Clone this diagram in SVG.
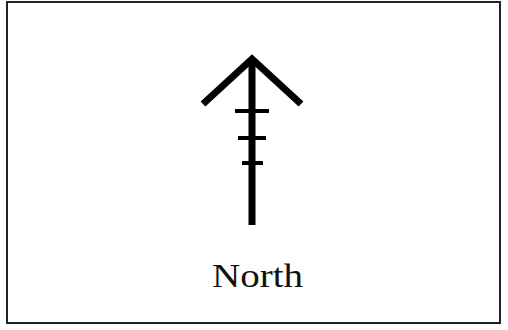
<svg xmlns="http://www.w3.org/2000/svg" width="508" height="330" viewBox="0 0 508 330">
<style>
.frame{fill:#fff;stroke:#222;stroke-width:2}
.shaft{stroke:#000;stroke-width:7;fill:none}
.tick{stroke:#000;stroke-width:4}
.label{font-family:"Liberation Serif",serif;font-size:34px;fill:#111}
</style>
<rect class="frame" x="7" y="2" width="493" height="321"/>
<g id="north-arrow">
<polyline class="shaft" points="203,104 252,59 301,104"/>
<line class="shaft" x1="252" y1="62" x2="252" y2="225"/>
<line class="tick" x1="235" y1="111" x2="269" y2="111"/>
<line class="tick" x1="238" y1="138" x2="266" y2="138"/>
<line class="tick" x1="242" y1="163" x2="263" y2="163"/>
</g>
<g id="label">
<text class="label" x="212" y="287" textLength="91" lengthAdjust="spacingAndGlyphs">North</text>
</g>
</svg>
